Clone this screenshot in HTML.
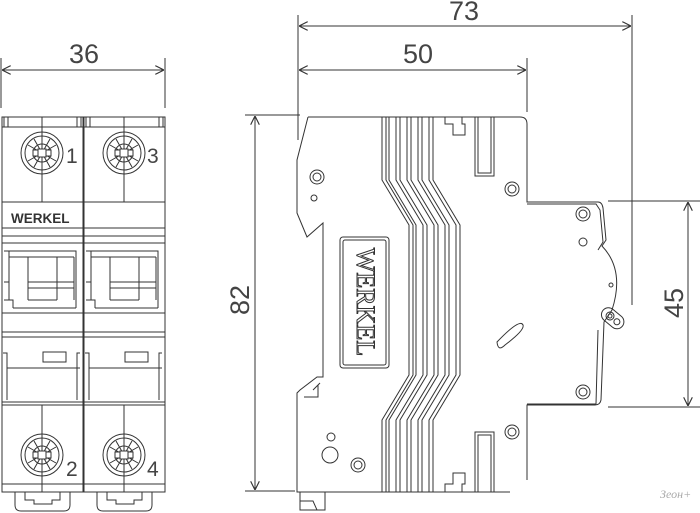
<!DOCTYPE html>
<html><head><meta charset="utf-8"><style>
html,body{margin:0;padding:0;background:#fff;}
svg{display:block;}
text{font-family:"Liberation Sans",sans-serif;fill:#444;}
</style></head><body>
<svg width="700" height="513" viewBox="0 0 700 513" xmlns="http://www.w3.org/2000/svg">
<defs>
<marker id="ar" viewBox="0 0 10 10" refX="10" refY="5" markerWidth="9" markerHeight="9" orient="auto-start-reverse" markerUnits="userSpaceOnUse">
<path d="M0,0 L10,5 L0,10" fill="none" stroke="#333" stroke-width="1.3"/>
</marker>
<g id="screw" fill="none" stroke="#333" stroke-width="1">
<circle r="21"/><circle r="17"/><circle r="9"/>
<path d="M-14,-8 L14,8 M-14,8 L14,-8 M-8,-14 L8,14 M8,-14 L-8,14"/>
<rect x="-4" y="-4" width="8" height="8" fill="#fff"/>
<rect x="-9" y="-3" width="5" height="6" fill="#fff"/><rect x="4" y="-3" width="5" height="6" fill="#fff"/>
</g>
<g id="pole" fill="none" stroke="#333" stroke-width="1">
<rect x="2" y="117" width="81" height="375"/>
<line x1="2" y1="127" x2="83" y2="127"/>
<rect x="4" y="117" width="4" height="10"/><rect x="77" y="117" width="4" height="10"/>
<line x1="42" y1="117" x2="42" y2="202"/>
<line x1="2" y1="202" x2="83" y2="202"/>
<line x1="2" y1="228" x2="83" y2="228"/>
<line x1="2" y1="236" x2="83" y2="236"/>
<line x1="2" y1="243" x2="83" y2="243"/>
<path d="M4,251 H76 V308 M9,251 V300 H13 V308 M76,251 V308"/>
<line x1="9" y1="257" x2="74" y2="257"/>
<path d="M28,257 V300 M57,257 V300 M74,257 V300 M28,282 H57 M28,288 H57 M4,282 H9 M57,282 H74 M57,288 H74 M28,300 H57 M13,308 H76 M9,300 H4"/>
<line x1="2" y1="313" x2="83" y2="313"/>
<line x1="2" y1="332" x2="83" y2="332"/>
<line x1="2" y1="337" x2="83" y2="337"/>
<rect x="43" y="352" width="23" height="10"/>
<path d="M3,353 H7 V400 M80,353 H77 V400"/>
<line x1="7" y1="368" x2="80" y2="368"/>
<line x1="2" y1="402" x2="83" y2="402"/>
<line x1="2" y1="405" x2="83" y2="405"/>
<line x1="42" y1="405" x2="42" y2="492"/>
<line x1="2" y1="484" x2="83" y2="484"/>
<path d="M15,492 V505 Q15,511 21,511 H64 Q70,511 70,505 V492"/>
<path d="M25,492 V500 H34 V504 H52 V500 H60 V492"/>
</g>
</defs>

<use href="#pole"/>
<use href="#pole" transform="translate(82,0)"/>
<use href="#screw" x="42" y="153"/>
<use href="#screw" x="124" y="153"/>
<use href="#screw" x="42" y="455"/>
<use href="#screw" x="124" y="455"/>
<text x="66" y="163" font-size="21">1</text>
<text x="147" y="163" font-size="21">3</text>
<text x="66" y="476" font-size="21">2</text>
<text x="147" y="476" font-size="21">4</text>
<text x="11" y="223" font-size="13.5" font-weight="bold" style="fill:#333">WERKEL</text>

<g stroke="#333" stroke-width="1" fill="none">
<line x1="1" y1="58" x2="1" y2="108"/>
<line x1="165" y1="58" x2="165" y2="108"/>
<line x1="2" y1="70" x2="164" y2="70" marker-start="url(#ar)" marker-end="url(#ar)"/>
<line x1="298" y1="15" x2="298" y2="140"/>
<line x1="527" y1="58" x2="527" y2="112"/>
<line x1="632" y1="15" x2="632" y2="305"/>
<line x1="299" y1="26" x2="631" y2="26" marker-start="url(#ar)" marker-end="url(#ar)"/>
<line x1="299" y1="70" x2="526" y2="70" marker-start="url(#ar)" marker-end="url(#ar)"/>
<line x1="245" y1="115" x2="300" y2="115"/>
<line x1="245" y1="491" x2="295" y2="491"/>
<line x1="255" y1="116" x2="255" y2="490" marker-start="url(#ar)" marker-end="url(#ar)"/>
<line x1="608" y1="201" x2="700" y2="201"/>
<line x1="608" y1="407" x2="700" y2="407"/>
<line x1="688" y1="202" x2="688" y2="406" marker-start="url(#ar)" marker-end="url(#ar)"/>
</g>
<text x="84" y="63" font-size="27" text-anchor="middle">36</text>
<text x="464" y="20" font-size="27" text-anchor="middle">73</text>
<text x="418" y="63" font-size="27" text-anchor="middle">50</text>
<text transform="translate(249,300) rotate(-90)" font-size="27" text-anchor="middle">82</text>
<text transform="translate(683,303) rotate(-90)" font-size="27" text-anchor="middle">45</text>

<g stroke="#333" stroke-width="1" fill="none">
<path d="M308,117 H520 Q527,117 527,124 V202 H598 Q602,202 603,208 L606,240 L602,246 Q625,270 612,310 L604,322 L601,400 Q600,405 595,405 H527 V480"/>
<path d="M308,117 L297,160 V213 L307,237 L323,223 V377 L317,377 L300,390 L297,393 V492 H510"/>
<path d="M300,492 V510 H325 V492 M300,501 H313 L317,510"/>
<path d="M313,390 L320,383 M304,397 H318 V385"/>
<path d="M527,204 H596 L600,210 L603,242 L598,250 M527,404 H596 L598,330"/>
<rect x="475" y="117" width="19" height="59"/><rect x="478" y="117" width="13" height="56"/>
<rect x="475" y="432" width="19" height="60"/><rect x="478" y="435" width="13" height="57"/>
<path d="M445,117 V124 H453 V135 H465 V124 H462 V117"/>
<path d="M445,492 V484 H453 V473 H465 V484 H462 V492"/>
<path d="M497,342 Q520,318 523,325 Q525,330 505,345 Q498,352 497,342 Z"/>
<rect x="340" y="237" width="49" height="131" rx="3"/>
<rect x="343" y="240" width="43" height="125" rx="2"/>
<g transform="translate(610,316) rotate(40)"><rect x="-9" y="-7" width="25" height="14" rx="7"/><circle r="4"/><circle r="2"/><circle cx="9" r="3"/></g>
<circle cx="317" cy="177" r="7"/><circle cx="317" cy="177" r="4"/>
<circle cx="314" cy="198" r="3"/>
<circle cx="512" cy="189" r="7"/><circle cx="512" cy="189" r="4"/>
<circle cx="583" cy="214" r="7"/><circle cx="583" cy="214" r="4"/>
<circle cx="583" cy="242" r="4"/>
<circle cx="611" cy="285" r="2"/>
<circle cx="583" cy="392" r="7"/><circle cx="583" cy="392" r="4"/>
<circle cx="512" cy="432" r="7"/><circle cx="512" cy="432" r="4"/>
<circle cx="331" cy="437" r="4"/>
<circle cx="330" cy="455" r="8"/>
<circle cx="358" cy="465" r="7"/><circle cx="358" cy="465" r="4"/>
<g>
<path d="M382,117 V180 L409,225 V375 L382,420 V492"/>
<path d="M386,117 V180 L413,225 V375 L386,420 V492"/>
<path d="M389,117 V180 L416,225 V375 L389,420 V492"/>
<path d="M396,117 V180 L423,225 V375 L396,420 V492"/>
<path d="M400,117 V180 L427,225 V375 L400,420 V492"/>
<path d="M407,117 V180 L434,225 V375 L407,420 V492"/>
<path d="M411,117 V180 L438,225 V375 L411,420 V492"/>
<path d="M418,117 V180 L445,225 V375 L418,420 V492"/>
<path d="M422,117 V180 L449,225 V375 L422,420 V492"/>
<path d="M429,117 V180 L456,225 V375 L429,420 V492"/>
<path d="M433,117 V180 L460,225 V375 L433,420 V492"/>
</g>
</g>
<text transform="translate(357,302) rotate(90)" font-size="26" text-anchor="middle" style="fill:#fff;stroke:#333;stroke-width:1;font-family:'Liberation Serif',serif">WERKEL</text>
<text x="660" y="498" font-size="12" font-style="italic" style="fill:#aaa;font-family:'Liberation Serif',serif">Зеон+</text>
</svg>
</body></html>
